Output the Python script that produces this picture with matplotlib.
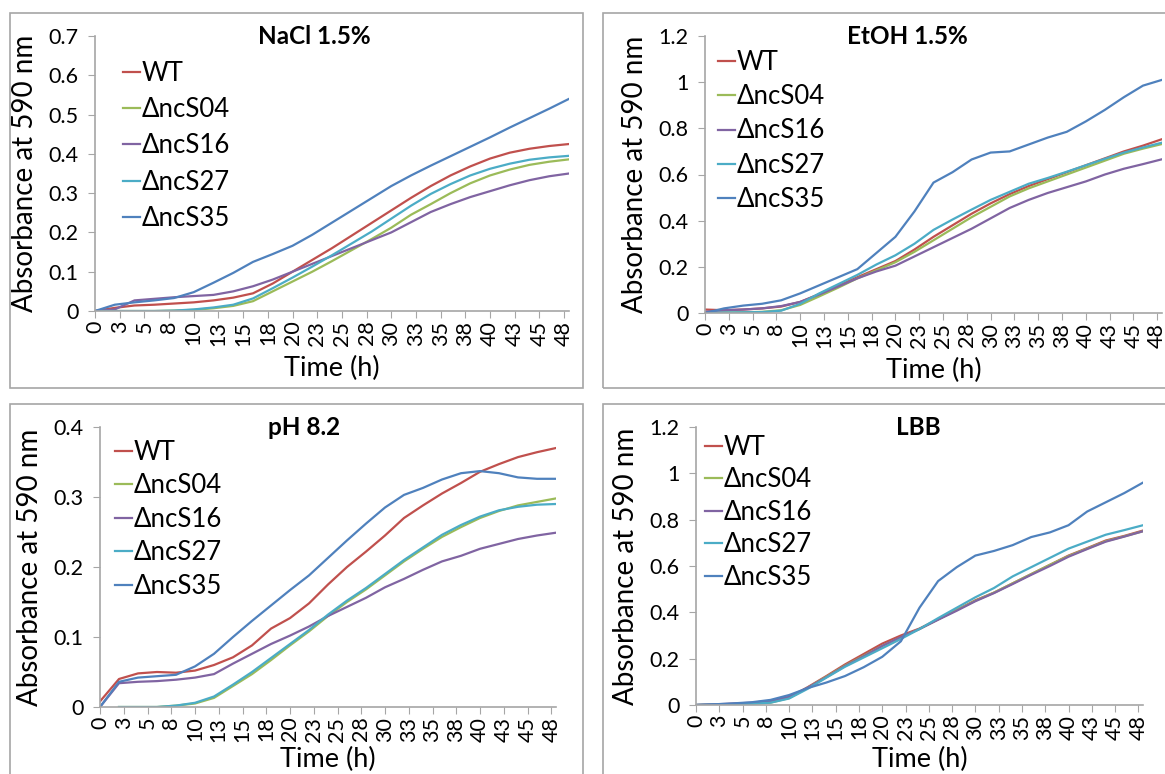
import matplotlib
matplotlib.use("Agg")
import matplotlib.pyplot as plt
from matplotlib.patches import Rectangle
import numpy as np

plt.rcParams['font.family'] = ['Lato', 'Open Sans', 'DejaVu Sans']

# time axis (h), sampled every 2 h
hours = [0, 2, 4, 6, 8, 10, 12, 14, 16, 18, 20, 22, 24, 26, 28, 30, 32, 34, 36, 38, 40, 42, 44, 46, 48]
tick_pos = [i * 2.5 for i in range(20)]
tick_labels = ['0', '3', '5', '8', '10', '13', '15', '18', '20', '23',
               '25', '28', '30', '33', '35', '38', '40', '43', '45', '48']
strains = ['WT', 'ΔncS04', 'ΔncS16', 'ΔncS27', 'ΔncS35']
colors = ['#C0504D', '#9BBB59', '#8064A2', '#4BACC6', '#4F81BD']

# NaCl 1.5%
nacl_wt = [0.0, 0.008, 0.014, 0.016, 0.019, 0.022, 0.027, 0.034, 0.045, 0.07, 0.1, 0.13, 0.16, 0.192, 0.224, 0.256, 0.288, 0.318, 0.345, 0.368, 0.388, 0.403, 0.413, 0.42, 0.425]
nacl_s04 = [0.0, 0.0, 0.0, 0.0, 0.001, 0.003, 0.007, 0.013, 0.025, 0.05, 0.075, 0.1, 0.127, 0.155, 0.183, 0.212, 0.245, 0.272, 0.3, 0.325, 0.345, 0.36, 0.372, 0.38, 0.386]
nacl_s16 = [0.0, 0.004, 0.027, 0.031, 0.035, 0.038, 0.041, 0.05, 0.063, 0.08, 0.1, 0.12, 0.14, 0.16, 0.18, 0.2, 0.226, 0.252, 0.272, 0.29, 0.305, 0.32, 0.333, 0.343, 0.35]
nacl_s27 = [0.0, 0.0, 0.0, 0.0, 0.001, 0.004, 0.009, 0.016, 0.032, 0.058, 0.085, 0.113, 0.142, 0.172, 0.202, 0.235, 0.268, 0.298, 0.323, 0.345, 0.362, 0.375, 0.385, 0.391, 0.395]
nacl_s35 = [0.0, 0.016, 0.022, 0.027, 0.033, 0.048, 0.072, 0.097, 0.125, 0.145, 0.166, 0.194, 0.225, 0.256, 0.287, 0.318, 0.345, 0.37, 0.394, 0.418, 0.442, 0.467, 0.491, 0.515, 0.54]

# EtOH 1.5%
etoh_wt = [0.015, 0.012, 0.015, 0.02, 0.028, 0.048, 0.082, 0.118, 0.155, 0.19, 0.225, 0.275, 0.33, 0.38, 0.43, 0.475, 0.515, 0.55, 0.58, 0.61, 0.64, 0.67, 0.7, 0.725, 0.753]
etoh_s04 = [0.0, 0.002, 0.003, 0.005, 0.012, 0.035, 0.072, 0.11, 0.15, 0.185, 0.22, 0.265, 0.315, 0.365, 0.415, 0.46, 0.505, 0.54, 0.57, 0.6, 0.63, 0.66, 0.69, 0.712, 0.732]
etoh_s16 = [0.005, 0.012, 0.015, 0.02, 0.03, 0.048, 0.08, 0.115, 0.15, 0.18, 0.205, 0.245, 0.285, 0.325, 0.365, 0.41, 0.455, 0.49, 0.52, 0.545, 0.57, 0.6, 0.625, 0.645, 0.666]
etoh_s27 = [0.0, 0.002, 0.003, 0.004, 0.01, 0.04, 0.085, 0.125, 0.165, 0.21, 0.25, 0.3, 0.36, 0.405, 0.448, 0.49, 0.525, 0.56, 0.585, 0.612, 0.64, 0.668, 0.695, 0.717, 0.738]
etoh_s35 = [0.0, 0.02, 0.032, 0.04, 0.055, 0.085, 0.12, 0.155, 0.19, 0.26, 0.33, 0.44, 0.565, 0.61, 0.665, 0.695, 0.7, 0.73, 0.76, 0.785, 0.83, 0.88, 0.935, 0.985, 1.01]

# pH 8.2
ph_wt = [0.008, 0.04, 0.048, 0.05, 0.049, 0.052, 0.06, 0.071, 0.088, 0.112, 0.127, 0.148, 0.175, 0.2, 0.222, 0.245, 0.27, 0.288, 0.305, 0.32, 0.336, 0.347, 0.357, 0.364, 0.37]
ph_s04 = [np.nan, 0.0, 0.0, 0.0, 0.002, 0.005, 0.013, 0.03, 0.047, 0.067, 0.088, 0.108, 0.13, 0.15, 0.168, 0.188, 0.208, 0.226, 0.243, 0.257, 0.27, 0.28, 0.288, 0.293, 0.298]
ph_s16 = [0.0, 0.034, 0.036, 0.037, 0.039, 0.042, 0.047, 0.062, 0.076, 0.09, 0.102, 0.115, 0.13, 0.143, 0.156, 0.171, 0.183, 0.196, 0.208, 0.216, 0.226, 0.233, 0.24, 0.245, 0.249]
ph_s27 = [np.nan, 0.0, 0.0, 0.0, 0.002, 0.006, 0.015, 0.032, 0.05, 0.07, 0.09, 0.11, 0.132, 0.152, 0.17, 0.19, 0.21, 0.228, 0.246, 0.26, 0.272, 0.281, 0.286, 0.289, 0.29]
ph_s35 = [0.0, 0.036, 0.042, 0.044, 0.046, 0.058, 0.076, 0.1, 0.123, 0.145, 0.167, 0.188, 0.213, 0.238, 0.262, 0.285, 0.303, 0.313, 0.325, 0.334, 0.337, 0.334, 0.328, 0.326, 0.326]

# LBB
lbb_wt = [0.0, 0.002, 0.005, 0.008, 0.014, 0.033, 0.077, 0.125, 0.175, 0.22, 0.265, 0.3, 0.33, 0.37, 0.41, 0.452, 0.485, 0.525, 0.565, 0.605, 0.645, 0.677, 0.71, 0.73, 0.753]
lbb_s04 = [0.0, 0.001, 0.003, 0.005, 0.01, 0.03, 0.075, 0.122, 0.17, 0.212, 0.255, 0.292, 0.328, 0.37, 0.41, 0.45, 0.485, 0.525, 0.565, 0.605, 0.643, 0.675, 0.707, 0.728, 0.75]
lbb_s16 = [0.0, 0.003, 0.006, 0.01, 0.018, 0.035, 0.075, 0.12, 0.168, 0.21, 0.255, 0.293, 0.328, 0.368, 0.407, 0.448, 0.483, 0.522, 0.562, 0.6, 0.64, 0.673, 0.705, 0.727, 0.75]
lbb_s27 = [0.0, 0.001, 0.003, 0.005, 0.01, 0.028, 0.07, 0.118, 0.165, 0.205, 0.245, 0.285, 0.328, 0.375, 0.42, 0.465, 0.505, 0.555, 0.595, 0.635, 0.675, 0.705, 0.735, 0.755, 0.776]
lbb_s35 = [0.0, 0.003, 0.007, 0.012, 0.022, 0.043, 0.073, 0.097, 0.125, 0.163, 0.208, 0.275, 0.42, 0.535, 0.595, 0.645, 0.665, 0.69, 0.725, 0.745, 0.776, 0.835, 0.875, 0.915, 0.96]

W, H = 1165, 774
fig = plt.figure(figsize=(W / 100, H / 100), dpi=100)

# panel frames (pixels: left, top, right, bottom)
for l, t, r, b in [(10, 13, 583, 388), (603, 13, 1175, 388),
                   (10, 404, 583, 790), (603, 404, 1175, 790)]:
    fig.patches.append(Rectangle((l / W, 1 - b / H), (r - l) / W, (b - t) / H,
                                 transform=fig.transFigure, fill=False,
                                 edgecolor='#a6a6a6', lw=1.2))

grey = '#a6a6a6'


def panel(px, series, title, ymax, ystep, title_xy, leg_xy, leg_space, xlab_off):
    l, t, r, b = px
    ax = fig.add_axes([l / W, 1 - b / H, (r - l) / W, (b - t) / H])
    for vals, name, c in zip(series, strains, colors):
        ax.plot(hours, vals, color=c, lw=1.6, label=name)
    ax.set_xlim(0, 48)
    ax.set_ylim(0, ymax)
    yt = np.arange(0, ymax + ystep / 2, ystep)
    ax.set_yticks(yt)
    ax.set_yticklabels(['%g' % round(v, 2) for v in yt], fontsize=15.5)
    ax.set_xticks(tick_pos)
    ax.set_xticklabels(tick_labels, rotation=90, fontsize=15.5)
    for s in ['top', 'right']:
        ax.spines[s].set_visible(False)
    for s in ['left', 'bottom']:
        ax.spines[s].set_color(grey)
        ax.spines[s].set_linewidth(1.2)
    ax.tick_params(axis='y', direction='out', length=5, color=grey, pad=7)
    ax.tick_params(axis='x', direction='out', length=5, color=grey, pad=2)
    ax.set_ylabel('Absorbance at 590 nm', fontsize=20)
    ax.yaxis.set_label_coords(-57 / (r - l), 0.5)
    ax.set_xlabel('Time (h)', fontsize=19.5)
    ax.xaxis.set_label_coords(0.5, -xlab_off / (b - t))
    fig.text(title_xy[0] / W, 1 - title_xy[1] / H, title, fontsize=17.5,
             fontweight='bold', ha='center', va='center')
    ax.legend(loc='upper left', bbox_to_anchor=(leg_xy[0] / W, 1 - leg_xy[1] / H),
              bbox_transform=fig.transFigure, frameon=False, fontsize=18.5,
              handlelength=0.68, handletextpad=0.05, borderpad=0, borderaxespad=0,
              labelspacing=leg_space)
    return ax


panel((95, 36, 569, 311), [nacl_wt, nacl_s04, nacl_s16, nacl_s27, nacl_s35],
      'NaCl 1.5%', 0.7, 0.1, (314, 37), (123, 61), 0.435, 45)
panel((705, 36, 1162, 313), [etoh_wt, etoh_s04, etoh_s16, etoh_s27, etoh_s35],
      'EtOH 1.5%', 1.2, 0.2, (907, 37), (718, 50), 0.36, 45)
panel((100, 427, 556, 707), [ph_wt, ph_s04, ph_s16, ph_s27, ph_s35],
      'pH 8.2', 0.4, 0.1, (304, 428), (115, 440), 0.33, 40)
panel((696, 427, 1143, 705), [lbb_wt, lbb_s04, lbb_s16, lbb_s27, lbb_s35],
      'LBB', 1.2, 0.2, (918, 428), (705, 435), 0.29, 42)

fig.savefig('out.png', dpi=100)
